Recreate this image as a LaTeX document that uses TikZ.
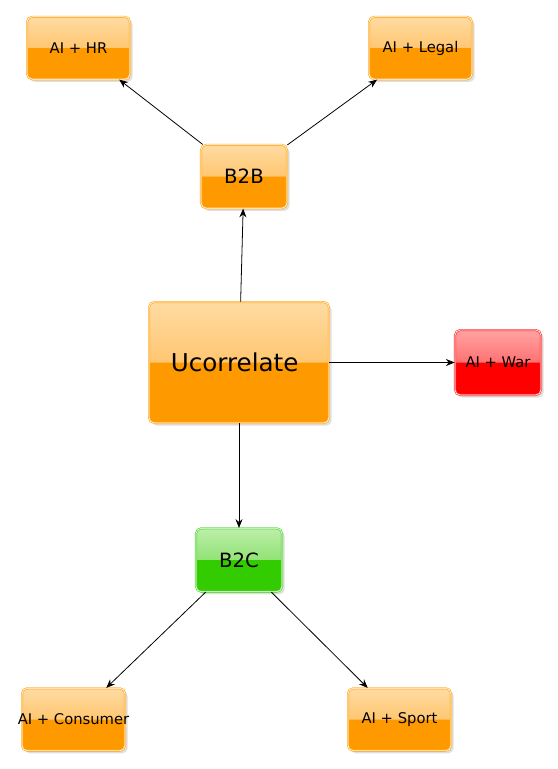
\documentclass[tikz,border=0pt]{standalone}
\usepackage{fontspec}
\setmainfont{DejaVu Sans}
\usetikzlibrary{arrows.meta, shadows, positioning}

\definecolor{orangetop}{HTML}{FFDBA2}
\definecolor{orangemid}{HTML}{FFB240}
\definecolor{orangelow}{HTML}{FF9900}
\definecolor{orangeedge}{HTML}{FFAA22}
\definecolor{greentop}{HTML}{BDEFAA}
\definecolor{greenmid}{HTML}{66D640}
\definecolor{greenlow}{HTML}{33CC00}
\definecolor{greenedge}{HTML}{55D633}
\definecolor{redtop}{HTML}{FFA3A3}
\definecolor{redmid}{HTML}{FF4040}
\definecolor{redlow}{HTML}{FF0000}
\definecolor{rededge}{HTML}{FF3333}

\tikzset{
  box/.style={rounded corners=3pt, draw=#1edge, double=white, double distance=0.35pt,
    line width=0.4pt, inner sep=0pt, text=black,
    drop shadow={shadow xshift=1.5pt, shadow yshift=-1.5pt, opacity=0.25},
    path picture={
      \shade[top color=#1top, bottom color=#1mid] ([shift={(-3pt,-1pt)}]path picture bounding box.west) rectangle ([shift={(3pt,0pt)}]path picture bounding box.north east);
      \fill[#1low] ([shift={(-3pt,-3pt)}]path picture bounding box.south west) rectangle ([xshift=3pt]path picture bounding box.east);
    }},
  leaf/.style={box=#1, minimum width=2.06cm, minimum height=1.25cm, font=\fontsize{8.4}{10}\selectfont},
  hub/.style={box=#1, minimum width=1.72cm, minimum height=1.27cm, font=\fontsize{11.2}{13}\selectfont},
  link/.style={-{Stealth[length=5pt, width=4pt]}, black, line width=0.45pt}
}

\begin{document}
\begin{tikzpicture}[x=0.02cm, y=-0.02cm]
  \useasboundingbox (0,0) rectangle (558,769);

  \node[box=orange, minimum width=3.6cm, minimum height=2.42cm, font=\fontsize{14}{17}\selectfont] (uc) at (239,362.5) {\makebox[0pt]{\hspace*{-5pt}Ucorrelate}};

  \node[hub=orange] (b2b) at (244,176.5) {B2B};
  \node[hub=green] (b2c) at (239,560) {B2C};
  \node[box=red, minimum width=1.72cm, minimum height=1.3cm, font=\fontsize{8.4}{10}\selectfont] (war) at (498,362.5) {AI + War};

  \node[leaf=orange] (hr) at (78.5,48) {AI + HR};
  \node[leaf=orange] (legal) at (420.5,48) {AI + Legal};
  \node[leaf=orange] (consumer) at (73.5,719.5) {\makebox[0pt]{AI + Consumer}};
  \node[leaf=orange] (sport) at (399.5,719.5) {AI + Sport};

  \draw[link] (uc) -- (b2b);
  \draw[link] (uc) -- (war);
  \draw[link] (uc) -- (b2c);

  \draw[link] (b2b) -- (hr);
  \draw[link] (b2b) -- (legal);

  \draw[link] (b2c) -- (consumer);
  \draw[link] (b2c) -- (sport);

\end{tikzpicture}
\end{document}
